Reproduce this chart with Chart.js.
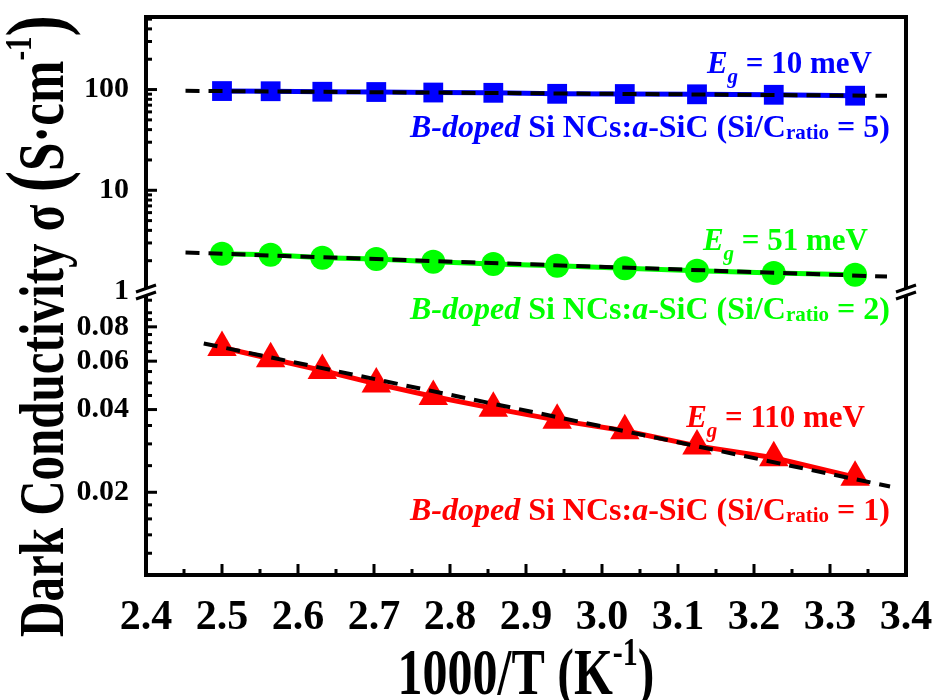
<!DOCTYPE html>
<html>
<head>
<meta charset="utf-8">
<script src="https://cdn.jsdelivr.net/npm/chart.js@4.4.1/dist/chart.umd.min.js"></script>
<style>
  html, body { margin: 0; padding: 0; background: #fff; }
</style>
</head>
<body>
<canvas id="chart" width="938" height="700"></canvas>
<script>
// Arrhenius plot of dark conductivity, broken log axis
// upper part: Si/C = 5 and 2, lower part: Si/C = 1

// Data
var invT        = [2.5, 2.564, 2.632, 2.703, 2.778, 2.857, 2.941, 3.030, 3.125, 3.226, 3.333];
var sigmaRatio5 = [96.6, 96.2, 95.1, 94.5, 93.4, 92.8, 90.7, 90.3, 89.7, 88.7, 86.9];
var sigmaRatio2 = [2.34, 2.29, 2.14, 2.08, 1.95, 1.85, 1.78, 1.68, 1.59, 1.51, 1.45];
var sigmaRatio1 = [0.0673, 0.0612, 0.0555, 0.0496, 0.0446, 0.0404, 0.0366, 0.0335, 0.0295, 0.0267, 0.0227];

// Linear fits (end points only)
var fitX5 = [2.452, 3.375];  var fitY5 = [97.1, 86.7];
var fitX2 = [2.452, 3.375];  var fitY2 = [2.41, 1.39];
var fitX1 = [2.476, 3.379];  var fitY1 = [0.0696, 0.021];

// Ticks
var xTicks      = [2.4, 2.5, 2.6, 2.7, 2.8, 2.9, 3.0, 3.1, 3.2, 3.3, 3.4];
var xMinorTicks = [2.45, 2.55, 2.65, 2.75, 2.85, 2.95, 3.05, 3.15, 3.25, 3.35];
var yHighTicks  = [1, 10, 100];
var yHighMinor  = [2, 3, 4, 5, 6, 7, 8, 9, 20, 30, 40, 50, 60, 70, 80, 90, 200, 300, 400, 500];
var yLowTicks   = [0.02, 0.04, 0.06, 0.08];
var yLowMinor   = [0.012, 0.014, 0.016, 0.018, 0.025, 0.03, 0.035, 0.045, 0.05, 0.055,
                   0.065, 0.07, 0.075, 0.085, 0.09, 0.1];

var BLUE  = '#0000ff';
var GREEN = '#00ff00';
var RED   = '#ff0000';
var SERIF = '"Liberation Serif", "Times New Roman", serif';

function toPoints(xs, ys) {
  return xs.map(function(x, i) { return { x: x, y: ys[i] }; });
}

// Rich text helpers (sub/superscripts, italics)
function fontOf(p) {
  return (p.i ? 'italic ' : '') + 'bold ' + p.s + 'px ' + SERIF;
}
function richWidth(ctx, parts) {
  var w = 0;
  parts.forEach(function(p) { ctx.font = fontOf(p); w += ctx.measureText(p.t).width; });
  return w;
}
function drawRich(ctx, parts, x, y) {
  parts.forEach(function(p) {
    ctx.font = fontOf(p);
    ctx.fillText(p.t, x, y + (p.dy || 0));
    x += ctx.measureText(p.t).width;
  });
}
function drawRichRight(ctx, parts, xRight, y, color) {
  ctx.save();
  ctx.fillStyle = color;
  ctx.textAlign = 'left';
  ctx.textBaseline = 'alphabetic';
  drawRich(ctx, parts, xRight - richWidth(ctx, parts), y);
  ctx.restore();
}

function egLabel(val) {
  return [
    { t: 'E', s: 31, i: true },
    { t: 'g', s: 21, i: true, dy: 10 },
    { t: ' = ' + val + ' meV', s: 31 }
  ];
}
function sampleLabel(ratio) {
  return [
    { t: 'B-doped', s: 32, i: true },
    { t: ' Si NCs:', s: 32 },
    { t: 'a', s: 32, i: true },
    { t: '-SiC (Si/C', s: 32 },
    { t: 'ratio', s: 21, dy: 2 },
    { t: ' = ' + ratio + ')', s: 32 }
  ];
}

// Frame, inward ticks, axis break marks, titles and annotations
var decorPlugin = {
  id: 'decor',
  afterDraw: function(chart) {
    var ctx = chart.ctx;
    var a = chart.chartArea;
    var sx = chart.scales.x, sHi = chart.scales.yHigh, sLo = chart.scales.yLow;
    var yb = sHi.bottom;

    ctx.save();
    ctx.strokeStyle = '#000';
    ctx.lineCap = 'butt';

    // ticks
    ctx.lineWidth = 3;
    function vTick(v, len) {
      var px = sx.getPixelForValue(v);
      ctx.beginPath(); ctx.moveTo(px, a.bottom); ctx.lineTo(px, a.bottom - len); ctx.stroke();
    }
    function hTick(scale, v, len) {
      var py = scale.getPixelForValue(v);
      if (py < scale.top + 2 || py > scale.bottom - 2) { return; }
      ctx.beginPath(); ctx.moveTo(a.left, py); ctx.lineTo(a.left + len, py); ctx.stroke();
    }
    xTicks.forEach(function(v) { if (v > 2.41 && v < 3.39) { vTick(v, 11); } });
    xMinorTicks.forEach(function(v) { vTick(v, 6); });
    yHighTicks.forEach(function(v) { hTick(sHi, v, 11); });
    yHighMinor.forEach(function(v) { hTick(sHi, v, 6); });
    yLowTicks.forEach(function(v) { hTick(sLo, v, 11); });
    yLowMinor.forEach(function(v) { hTick(sLo, v, 6); });

    // frame
    ctx.lineWidth = 4;
    ctx.strokeRect(a.left, a.top, a.right - a.left, a.bottom - a.top);

    // break marks on both sides
    [a.left, a.right].forEach(function(x) {
      ctx.fillStyle = '#fff';
      ctx.fillRect(x - 4, yb - 3, 8, 7);
      ctx.lineWidth = 3;
      ctx.beginPath();
      ctx.moveTo(x - 10, yb + 1); ctx.lineTo(x + 10, yb - 6);
      ctx.moveTo(x - 10, yb + 8); ctx.lineTo(x + 10, yb + 1);
      ctx.stroke();
    });

    ctx.fillStyle = '#000';
    ctx.textAlign = 'left';
    ctx.textBaseline = 'alphabetic';

    // x title
    var xt = [
      { t: '1000/T (K', s: 50 },
      { t: '-1', s: 30, dy: -22 },
      { t: ')', s: 50 }
    ];
    ctx.save();
    ctx.translate((a.left + a.right) / 2, 694);
    ctx.scale(1, 1.3);
    drawRich(ctx, xt, -richWidth(ctx, xt) / 2, 0);
    ctx.restore();

    // y title
    var yt = [
      { t: 'Dark Conductivity \u03c3 ', s: 49 },
      { t: '(', s: 64 },
      { t: 'S\u00b7cm', s: 51 },
      { t: '-1', s: 29, dy: -25 },
      { t: ')', s: 64 }
    ];
    ctx.save();
    ctx.translate(63, 326);
    ctx.rotate(-Math.PI / 2);
    ctx.scale(1, 1.28);
    drawRich(ctx, yt, -richWidth(ctx, yt) / 2, 0);
    ctx.restore();

    // annotations
    drawRichRight(ctx, egLabel(10), a.right - 34, a.top + 56, BLUE);
    drawRichRight(ctx, sampleLabel(5), a.right - 16, a.top + 120, BLUE);
    drawRichRight(ctx, egLabel(51), a.right - 38, a.top + 233, GREEN);
    drawRichRight(ctx, sampleLabel(2), a.right - 16, a.top + 302, GREEN);
    drawRichRight(ctx, egLabel(110), a.right - 41, a.top + 410, RED);
    drawRichRight(ctx, sampleLabel(1), a.right - 16, a.top + 503, RED);

    ctx.restore();
  }
};

function dataSet(ys, color, style, radius, axis) {
  return {
    data: toPoints(invT, ys),
    yAxisID: axis,
    borderColor: color,
    backgroundColor: color,
    borderWidth: 5,
    pointStyle: style,
    pointRadius: radius,
    pointBorderWidth: 0,
    pointBackgroundColor: color,
    showLine: true,
    order: 1
  };
}
function fitSet(xs, ys, axis) {
  return {
    data: toPoints(xs, ys),
    yAxisID: axis,
    borderColor: '#000',
    borderWidth: 4,
    borderDash: [14, 9],
    pointRadius: 0,
    showLine: true,
    order: 0
  };
}

// no automatic label padding: the plot box is fixed
function noPad(s) {
  s.paddingTop = 0; s.paddingBottom = 0; s.paddingLeft = 0; s.paddingRight = 0;
}

var tickFont = { family: SERIF, size: 30, weight: 'bold' };

new Chart(document.getElementById('chart'), {
  type: 'scatter',
  data: {
    datasets: [
      fitSet(fitX5, fitY5, 'yHigh'),
      fitSet(fitX2, fitY2, 'yHigh'),
      fitSet(fitX1, fitY1, 'yLow'),
      dataSet(sigmaRatio5, BLUE, 'rect', 14, 'yHigh'),
      dataSet(sigmaRatio2, GREEN, 'circle', 12, 'yHigh'),
      dataSet(sigmaRatio1, RED, 'triangle', 17, 'yLow')
    ]
  },
  options: {
    responsive: false,
    animation: false,
    layout: { padding: { top: 15, right: 32, left: 0, bottom: 0 } },
    plugins: {
      legend: { display: false },
      tooltip: { enabled: false }
    },
    scales: {
      x: {
        type: 'linear',
        min: 2.4,
        max: 3.4,
        afterBuildTicks: function(s) { s.ticks = xTicks.map(function(v) { return { value: v }; }); },
        afterFit: function(s) { s.height = 125; noPad(s); },
        grid: { display: false, drawTicks: false },
        border: { display: false },
        ticks: {
          font: { family: SERIF, size: 42, weight: 'bold' },
          color: '#000',
          padding: 18,
          maxRotation: 0,
          autoSkip: false,
          callback: function(v) { return v.toFixed(1); }
        }
      },
      yLow: {
        type: 'logarithmic',
        position: 'left',
        stack: 'sigma',
        stackWeight: 285,
        min: 0.01,
        max: 0.108,
        afterBuildTicks: function(s) { s.ticks = yLowTicks.map(function(v) { return { value: v }; }); },
        afterFit: function(s) { s.width = 146; noPad(s); },
        grid: { display: false, drawTicks: false },
        border: { display: false },
        ticks: {
          font: tickFont,
          color: '#000',
          padding: 17,
          autoSkip: false,
          callback: function(v) { return v.toFixed(2); }
        }
      },
      yHigh: {
        type: 'logarithmic',
        position: 'left',
        stack: 'sigma',
        stackWeight: 275,
        min: 1,
        max: 525,
        afterBuildTicks: function(s) { s.ticks = yHighTicks.map(function(v) { return { value: v }; }); },
        afterFit: function(s) { s.width = 146; noPad(s); },
        grid: { display: false, drawTicks: false },
        border: { display: false },
        ticks: {
          font: tickFont,
          color: '#000',
          padding: 17,
          autoSkip: false,
          callback: function(v) { return String(v); }
        }
      }
    }
  },
  plugins: [decorPlugin]
});
</script>
</body>
</html>
